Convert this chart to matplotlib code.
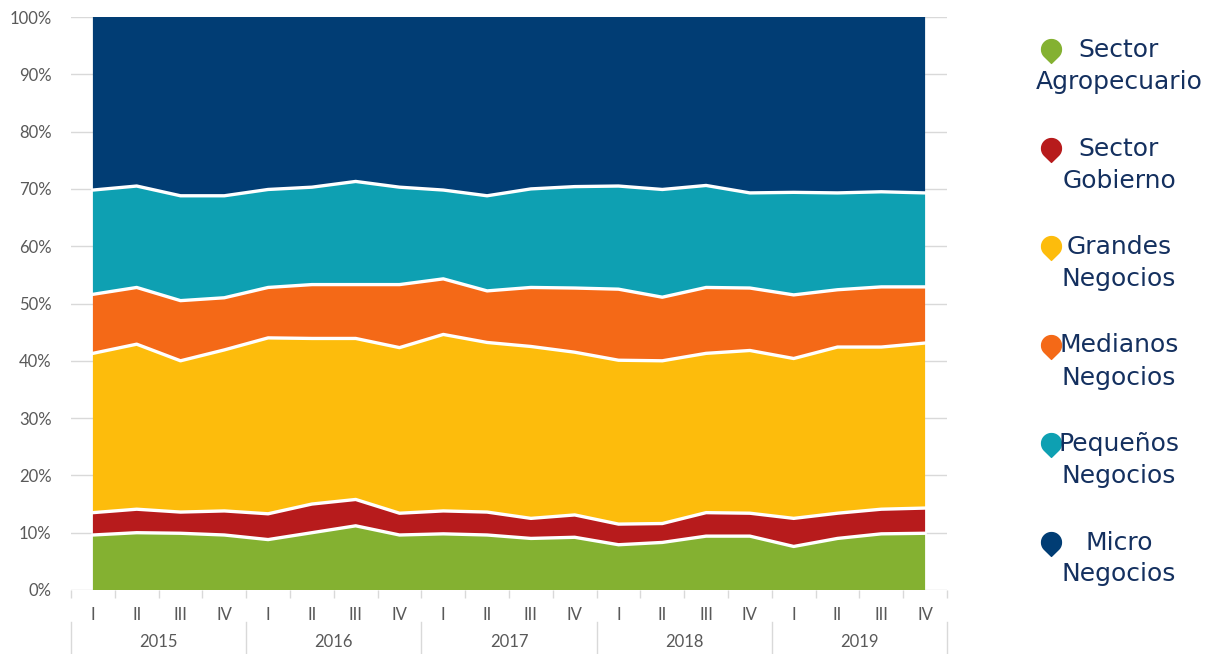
import numpy as np
import matplotlib
matplotlib.use("Agg")
from matplotlib import pyplot as plt
from matplotlib.path import Path

plt.rcParams['font.family'] = ['Lato', 'DejaVu Sans']

quarters = ['I', 'II', 'III', 'IV'] * 5
years = ['2015', '2016', '2017', '2018', '2019']

# shares (%) per quarter, 2015 I .. 2019 IV
agro = [9.6, 10.0, 9.9, 9.6, 8.8, 10.0, 11.2, 9.6, 9.8, 9.6, 9.0, 9.2, 7.9, 8.3, 9.4, 9.4, 7.6, 9.0, 9.8, 9.9]
gobierno = [3.9, 4.1, 3.7, 4.2, 4.5, 5.0, 4.6, 3.8, 4.0, 4.0, 3.5, 3.9, 3.6, 3.3, 4.1, 4.0, 4.9, 4.4, 4.3, 4.4]
grandes = [27.8, 28.8, 26.4, 28.1, 30.7, 28.9, 28.1, 28.9, 30.8, 29.6, 30.0, 28.4, 28.6, 28.4, 27.8, 28.4, 27.9, 29.0, 28.3, 28.8]
medianos = [10.3, 9.9, 10.5, 9.1, 8.8, 9.4, 9.4, 11.0, 9.7, 9.0, 10.3, 11.2, 12.4, 11.1, 11.5, 10.9, 11.1, 10.0, 10.5, 9.8]
pequenos = [18.2, 17.7, 18.3, 17.8, 17.1, 17.0, 18.0, 17.0, 15.5, 16.6, 17.2, 17.7, 18.0, 18.8, 17.8, 16.6, 17.9, 16.9, 16.6, 16.4]
micro = [30.2, 29.5, 31.2, 31.2, 30.1, 29.7, 28.7, 29.7, 30.2, 31.2, 30.0, 29.6, 29.5, 30.1, 29.4, 30.7, 30.6, 30.7, 30.5, 30.7]

labels = [['Sector', 'Agropecuario'], ['Sector', 'Gobierno'], ['Grandes', 'Negocios'],
          ['Medianos', 'Negocios'], ['Pequeños', 'Negocios'], ['Micro', 'Negocios']]
colors = ['#84b131', '#b71b1c', '#fdbc0c', '#f46917', '#0ea0b2', '#013d74']

data = np.array([agro, gobierno, grandes, medianos, pequenos, micro])
data = data / data.sum(axis=0) * 100
x = np.arange(len(quarters))
cum = np.cumsum(data, axis=0)

fig = plt.figure(figsize=(12.14, 6.54), dpi=100)
ax = fig.add_axes([71 / 1214, 1 - 590 / 654, 876 / 1214, 573 / 654])

ax.stackplot(x, data, colors=colors, linewidth=0, zorder=2)
for row in cum[:-1]:
    ax.plot(x, row, color='white', lw=2.4, zorder=3)

ax.set_xlim(-0.5, len(x) - 0.5)
ax.set_ylim(0, 100)
ax.set_yticks(np.arange(0, 101, 10))
ax.set_yticklabels([f'{v}%' for v in range(0, 101, 10)])
ax.yaxis.grid(True, color='#d9d9d9', lw=1, zorder=0)
ax.set_axisbelow(True)
for s in ax.spines.values():
    s.set_visible(False)
ax.tick_params(axis='y', length=0, pad=14, labelsize=12, labelcolor='#595959')

ax.set_xticks(x)
ax.set_xticklabels(quarters)
ax.tick_params(axis='x', which='major', length=0, pad=12, labelsize=12, labelcolor='#595959')
ax.set_xticks(np.arange(-0.5, len(x)), minor=True)
ax.tick_params(axis='x', which='minor', length=6, color='#d9d9d9', width=1)

trans = ax.get_xaxis_transform()
for i, yr in enumerate(years):
    ax.text(4 * i + 1.5, -0.0908, yr, transform=trans, ha='center', va='center',
            fontsize=12, color='#595959')
for k in range(len(years) + 1):
    ax.plot([4 * k - 0.5] * 2, [-0.0558, -0.115], transform=trans, color='#d9d9d9',
            lw=1, clip_on=False)

# legend drawn in pixel coordinates
ov = fig.add_axes([0, 0, 1, 1])
ov.set_xlim(0, 1214)
ov.set_ylim(654, 0)
ov.axis('off')
t = np.radians(np.linspace(-45, 225, 60))
pin = Path(np.vstack([np.column_stack([np.cos(t), np.sin(t)]), [[0, -1.4]], [[np.cos(t[0]), np.sin(t[0])]]]))
for i, (lab, c) in enumerate(zip(labels, colors)):
    y0 = 48 + 98.5 * i
    ov.plot(1051, y0 + 1, marker=pin, ms=20, color=c, mec=c)
    ov.text(1119, y0 + 9, lab[0], ha='center', va='baseline', fontsize=18,
            color='#14305f', family='DejaVu Sans')
    ov.text(1119, y0 + 41, lab[1], ha='center', va='baseline', fontsize=18,
            color='#14305f', family='DejaVu Sans')

fig.savefig('out.png', dpi=100)
